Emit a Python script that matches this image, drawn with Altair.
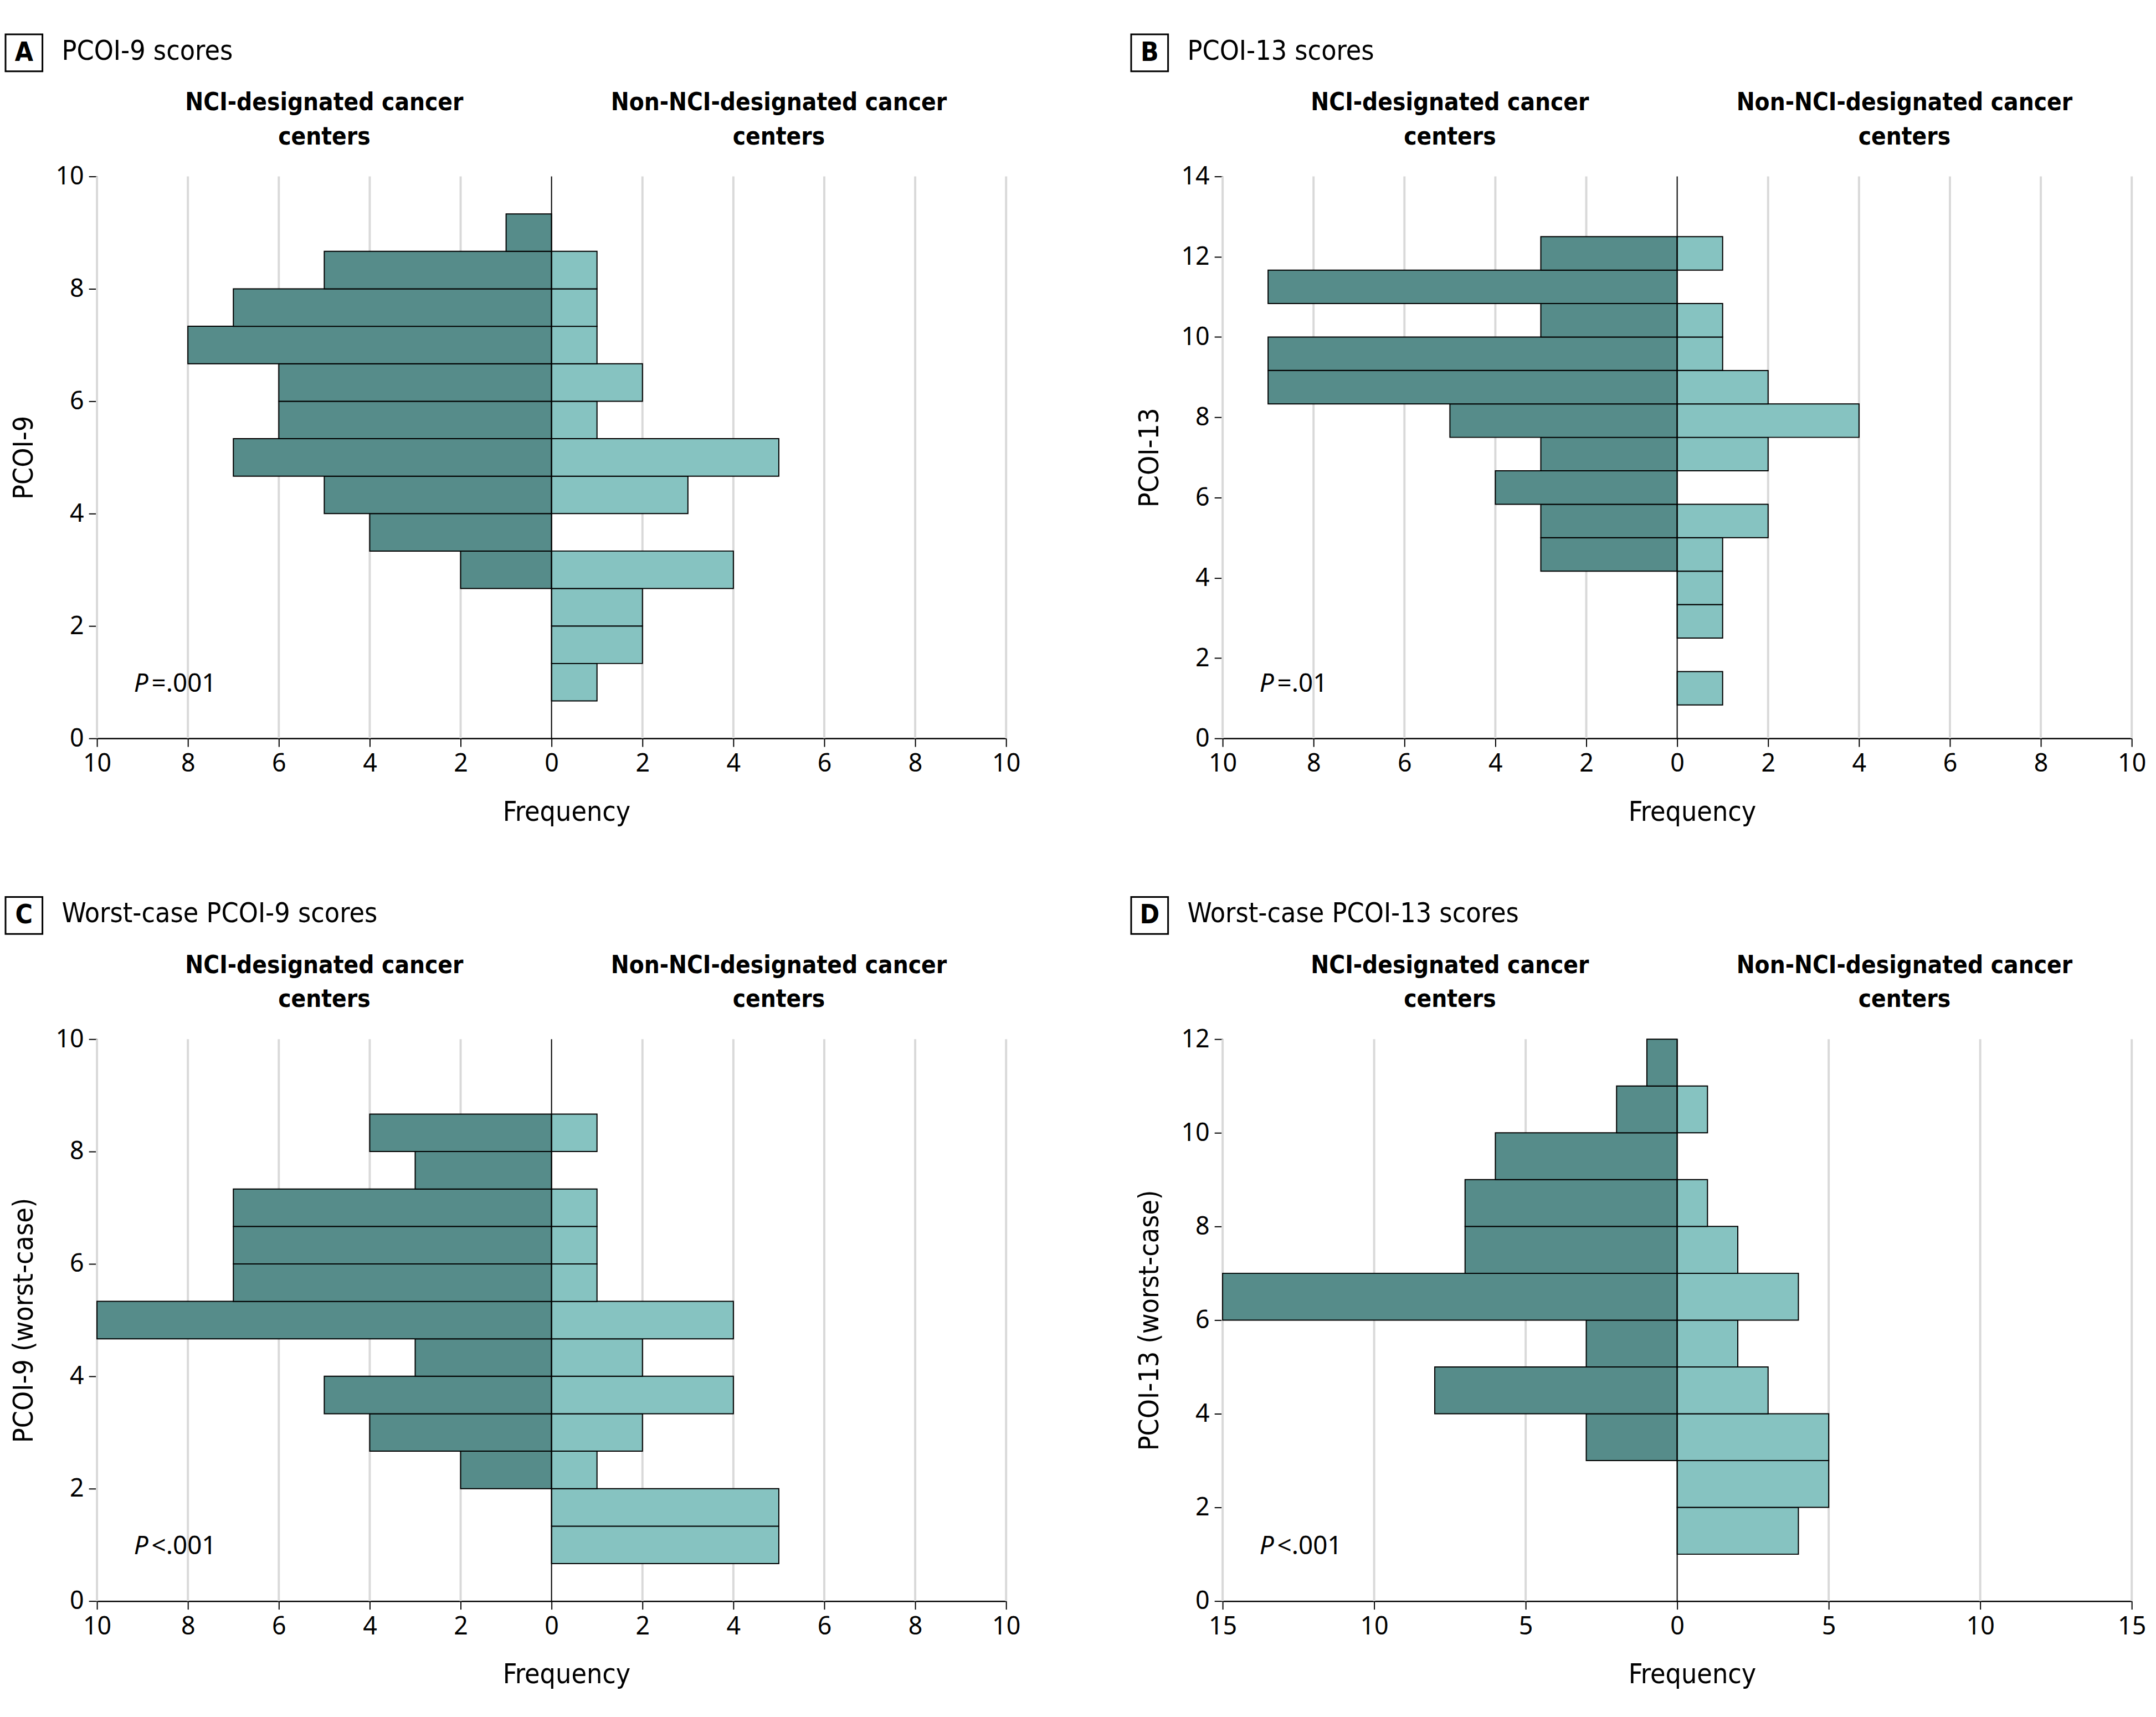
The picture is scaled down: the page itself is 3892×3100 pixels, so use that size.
import altair as alt
import pandas as pd

FONT = "Noto Sans"
NARROW = "DejaVu Sans Condensed, Noto Sans"
DARK = "#568C8A"
LIGHT = "#86C3C1"
GRID = "#D9D9D9"

W = 1650
H = 1020

# ---------------- data (bin lower edges, bin width, counts) ----------------
# Panel A: PCOI-9 scores
a_lo = [0.667, 1.333, 2.0, 2.667, 3.333, 4.0, 4.667, 5.333, 6.0, 6.667, 7.333, 8.0, 8.667]
a_width = 0.667
a_nci = [0, 0, 0, 2, 4, 5, 7, 6, 6, 8, 7, 5, 1]
a_non = [1, 2, 2, 4, 0, 3, 5, 1, 2, 1, 1, 1, 0]

# Panel B: PCOI-13 scores
b_lo = [0.833, 1.667, 2.5, 3.333, 4.167, 5.0, 5.833, 6.667, 7.5, 8.333, 9.167, 10.0, 10.833, 11.667]
b_width = 0.833
b_nci = [0, 0, 0, 0, 3, 3, 4, 3, 5, 9, 9, 3, 9, 3]
b_non = [1, 0, 1, 1, 1, 2, 0, 2, 4, 2, 1, 1, 0, 1]

# Panel C: Worst-case PCOI-9 scores
c_lo = [0.667, 1.333, 2.0, 2.667, 3.333, 4.0, 4.667, 5.333, 6.0, 6.667, 7.333, 8.0]
c_width = 0.667
c_nci = [0, 0, 2, 4, 5, 3, 10, 7, 7, 7, 3, 4]
c_non = [5, 5, 1, 2, 4, 2, 4, 1, 1, 1, 0, 1]

# Panel D: Worst-case PCOI-13 scores
d_lo = [1, 2, 3, 4, 5, 6, 7, 8, 9, 10, 11]
d_width = 1.0
d_nci = [0, 0, 3, 8, 3, 15, 7, 7, 6, 2, 1]
d_non = [4, 5, 5, 3, 2, 4, 2, 1, 0, 1, 0]

HEAD_LEFT = "NCI-designated cancer"
HEAD_RIGHT = "Non-NCI-designated cancer"
HEAD_2 = "centers"

one = pd.DataFrame({"k": [0]})


def text(s, x, y, align="left", size=44, weight="normal", style="normal", font=NARROW):
    return alt.Chart(one).mark_text(
        text=s, align=align, baseline="middle", fontSize=size, font=font,
        fontWeight=weight, fontStyle=style, color="black"
    ).encode(x=alt.value(x), y=alt.value(y))


def panel(lo, width, nci, non, ymax, xmax, xstep, ytitle, letter, title, p_rest):
    rows = []
    for l, n, m in zip(lo, nci, non):
        if n:
            rows.append({"lo": l, "hi": l + width, "x": -n, "x2": 0, "g": "NCI"})
        if m:
            rows.append({"lo": l, "hi": l + width, "x": m, "x2": 0, "g": "Non"})
    df = pd.DataFrame(rows)

    xticks = list(range(-xmax, xmax + 1, xstep))
    yticks = list(range(0, ymax + 1, 2))
    xs = alt.Scale(domain=[-xmax, xmax], nice=False, zero=False)
    ys = alt.Scale(domain=[0, ymax], nice=False)
    xaxis = alt.Axis(values=xticks, labelExpr="abs(datum.value)", title="Frequency",
                     grid=False, titleX=W / 2 + 27, labelFlush=False)
    yaxis = alt.Axis(values=yticks, title=ytitle, grid=False, labelFlush=False)

    grid = alt.Chart(pd.DataFrame({"x": [t for t in xticks if t != 0]})).mark_rule(
        color=GRID, strokeWidth=4
    ).encode(x=alt.X("x:Q", scale=xs, axis=xaxis), y=alt.value(0), y2=alt.value(H))

    bars = alt.Chart(df).mark_rect(stroke="black", strokeWidth=2).encode(
        x=alt.X("x:Q", scale=xs, axis=xaxis),
        x2="x2:Q",
        y=alt.Y("lo:Q", scale=ys, axis=yaxis),
        y2="hi:Q",
        color=alt.Color("g:N", scale=alt.Scale(domain=["NCI", "Non"], range=[DARK, LIGHT]),
                        legend=None),
    )

    zero = alt.Chart(pd.DataFrame({"x": [0]})).mark_rule(color="black", strokeWidth=2).encode(
        x=alt.X("x:Q", scale=xs, axis=xaxis), y=alt.value(0), y2=alt.value(H)
    )

    box = alt.Chart(one).mark_rect(fill="white", stroke="black", strokeWidth=3).encode(
        x=alt.value(-166), x2=alt.value(-99), y=alt.value(-258), y2=alt.value(-191)
    )

    texts = [
        text(letter, -132.5, -224, align="center", size=48, weight="bold"),
        text(title, -64, -227, size=50),
        text(HEAD_LEFT, W / 4, -133, align="center", size=44, weight="bold"),
        text(HEAD_2, W / 4, -71, align="center", size=44, weight="bold"),
        text(HEAD_RIGHT, 3 * W / 4, -133, align="center", size=44, weight="bold"),
        text(HEAD_2, 3 * W / 4, -71, align="center", size=44, weight="bold"),
        text("P", 67, 921, size=46, style="italic", font=FONT),
        text(p_rest, 99, 921, size=46, font=FONT),
    ]

    return alt.layer(grid, bars, zero, box, *texts).properties(width=W, height=H)


pA = panel(a_lo, a_width, a_nci, a_non, 10, 10, 2, "PCOI-9", "A", "PCOI-9 scores", "=.001")
pB = panel(b_lo, b_width, b_nci, b_non, 14, 10, 2, "PCOI-13", "B", "PCOI-13 scores", "=.01")
pC = panel(c_lo, c_width, c_nci, c_non, 10, 10, 2, "PCOI-9 (worst-case)", "C",
           "Worst-case PCOI-9 scores", "<.001")
pD = panel(d_lo, d_width, d_nci, d_non, 12, 15, 5, "PCOI-13 (worst-case)", "D",
           "Worst-case PCOI-13 scores", "<.001")

chart = alt.concat(
    pA, pB, pC, pD, columns=2, spacing={"row": 546, "column": 393}, bounds="flush"
).properties(
    padding={"left": 0, "top": 44, "right": 10, "bottom": 10}
).configure(
    font=FONT
).configure_view(
    stroke=None
).configure_axis(
    domainColor="black", domainWidth=2.5, tickColor="black", tickWidth=2, tickSize=15,
    labelColor="black", labelFontSize=45, labelFont=FONT, labelPadding=9,
    titleColor="black", titleFontSize=50, titleFont=NARROW, titleFontWeight="normal",
    titlePadding=40
).configure_axisLeft(
    titlePadding=32
)

chart.save("out.html", embed_options={"renderer": "svg", "actions": False})
